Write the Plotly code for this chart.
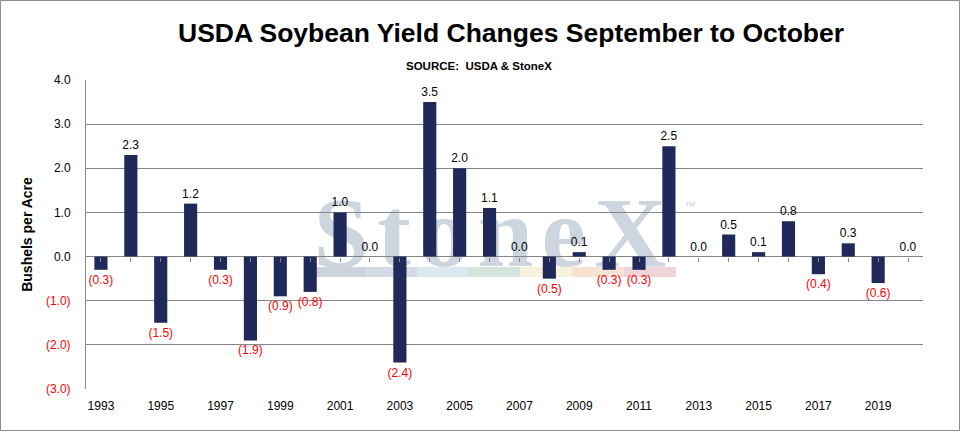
import plotly.graph_objects as go

# USDA soybean yield change, September to October estimate (bu/acre)
years = [1993, 1994, 1995, 1996, 1997, 1998, 1999, 2000, 2001, 2002,
         2003, 2004, 2005, 2006, 2007, 2008, 2009, 2010, 2011, 2012,
         2013, 2014, 2015, 2016, 2017, 2018, 2019, 2020]
changes = [-0.3, 2.3, -1.5, 1.2, -0.3, -1.9, -0.9, -0.8, 1.0, 0.0,
           -2.4, 3.5, 2.0, 1.1, 0.0, -0.5, 0.1, -0.3, -0.3, 2.5,
           0.0, 0.5, 0.1, 0.8, -0.4, 0.3, -0.6, 0.0]

label_years = [1993, 1995, 1997, 1999, 2001, 2003, 2005, 2007,
               2009, 2011, 2013, 2015, 2017, 2019]
y_tickvals = [-3, -2, -1, 0, 1, 2, 3, 4]
y_ticktext = ["(3.0)", "(2.0)", "(1.0)", "0.0", "1.0", "2.0", "3.0", "4.0"]

NAVY = "#1f2a5a"
GRID = "#868686"

# plot area in pixels, used to place the decorations
L, R, T, B = 86, 923, 80, 389
W, H = 961, 432


def px_x(p):
    return (p - L) / (R - L)


def px_y(p):
    return (B - p) / (B - T)


bar_text = [f"{v:.1f}" if v >= 0 else f"({abs(v):.1f})" for v in changes]
text_colors = ["#000000" if v >= 0 else "#ff0000" for v in changes]
tick_labels = [
    f"<span style='color:#ff0000'>{t}</span>" if v < 0 else t
    for t, v in zip(y_ticktext, y_tickvals)
]

fig = go.Figure()

fig.add_trace(
    go.Bar(
        x=years,
        y=changes,
        marker_color=NAVY,
        marker_line_width=0,
        text=bar_text,
        textposition="outside",
        constraintext="none",
        textfont=dict(color=text_colors, size=12, family="Liberation Sans"),
        cliponaxis=False,
        showlegend=False,
    )
)

# invisible trace so the zero-line tick axis gets drawn
fig.add_trace(
    go.Scatter(
        x=years,
        y=changes,
        xaxis="x2",
        mode="none",
        hoverinfo="skip",
        showlegend=False,
    )
)

shapes = []

# StoneX watermark (text + colour strip), drawn under the grid
strip_x = [316, 365, 417, 468, 520, 572, 624, 676]
strip_cols = ["#ccd3dc", "#d3dce6", "#dce8f2", "#d5e4da", "#f5f3dc", "#f6e3d3", "#f0d3d6"]
for i, c in enumerate(strip_cols):
    shapes.append(dict(
        type="rect", xref="paper", yref="paper", layer="below",
        x0=px_x(strip_x[i]), x1=px_x(strip_x[i + 1]),
        y0=px_y(277), y1=px_y(267),
        fillcolor=c, line_width=0,
    ))
hair = "\u200a"
shapes.append(dict(
    type="rect", xref="paper", yref="paper", layer="below",
    x0=px_x(300), x1=px_x(680), y0=px_y(263), y1=px_y(180),
    line_width=0, fillcolor="rgba(0,0,0,0)",
    label=dict(text=hair.join("StoneX"), textposition="middle center",
               font=dict(family="Liberation Serif", size=100, color="#cdd5de", weight="bold")),
))
shapes.append(dict(
    type="rect", xref="paper", yref="paper", layer="below",
    x0=px_x(680), x1=px_x(700), y0=px_y(212), y1=px_y(198),
    line_width=0, fillcolor="rgba(0,0,0,0)",
    label=dict(text="™", textposition="middle center",
               font=dict(family="Liberation Sans", size=12, color="#cdd5de")),
))

# outer frame of the chart
shapes.append(dict(
    type="rect", xref="paper", yref="paper", layer="above",
    x0=px_x(0.5), x1=px_x(W - 1.5), y0=px_y(H - 1.5), y1=px_y(0.5),
    line=dict(color="#8c8c8c", width=1), fillcolor="rgba(0,0,0,0)",
))

fig.update_layout(
    width=W,
    height=H,
    margin=dict(l=L, r=W - R, t=T, b=H - B),
    paper_bgcolor="white",
    plot_bgcolor="white",
    font=dict(family="Liberation Sans", size=12, color="#000000"),
    bargap=0.56,
    shapes=shapes,
    annotations=[
        dict(
            text="<b>USDA Soybean Yield Changes September to October</b>",
            xref="paper", yref="paper", x=px_x(511), y=px_y(33),
            showarrow=False, font=dict(size=26.5, color="#000000"),
            xanchor="center", yanchor="middle",
        ),
        dict(
            text="<b>SOURCE:  USDA &amp; StoneX</b>",
            xref="paper", yref="paper", x=px_x(479), y=px_y(66),
            showarrow=False, font=dict(size=11.5, color="#000000"),
            xanchor="center", yanchor="middle",
        ),
    ],
    xaxis=dict(
        range=[1992.5, 2020.5],
        tickvals=label_years,
        ticktext=[str(y) for y in label_years],
        ticks="",
        showgrid=False,
        zeroline=False,
        showline=False,
        ticklabelstandoff=8,
        tickfont=dict(size=12),
    ),
    xaxis2=dict(
        overlaying="x",
        matches="x",
        anchor="free",
        position=px_y(B - (B - T) * 3 / 7),
        side="bottom",
        dtick=1,
        tick0=1993,
        ticks="outside",
        ticklen=4,
        tickcolor=GRID,
        showticklabels=False,
        showgrid=False,
        zeroline=False,
        showline=False,
    ),
    yaxis=dict(
        range=[-3, 4],
        tickvals=y_tickvals,
        ticktext=tick_labels,
        showgrid=True,
        gridcolor=GRID,
        gridwidth=1,
        zeroline=True,
        zerolinecolor=GRID,
        zerolinewidth=1,
        showline=True,
        linecolor=GRID,
        linewidth=1,
        ticks="",
        ticklabelstandoff=12,
        tickfont=dict(size=12),
        title=dict(text="<b>Bushels per Acre</b>", font=dict(size=14), standoff=10),
    ),
)

fig.write_html(
    "out.html",
    config={"displayModeBar": False},
    post_script="document.body.style.margin='0';",
)
